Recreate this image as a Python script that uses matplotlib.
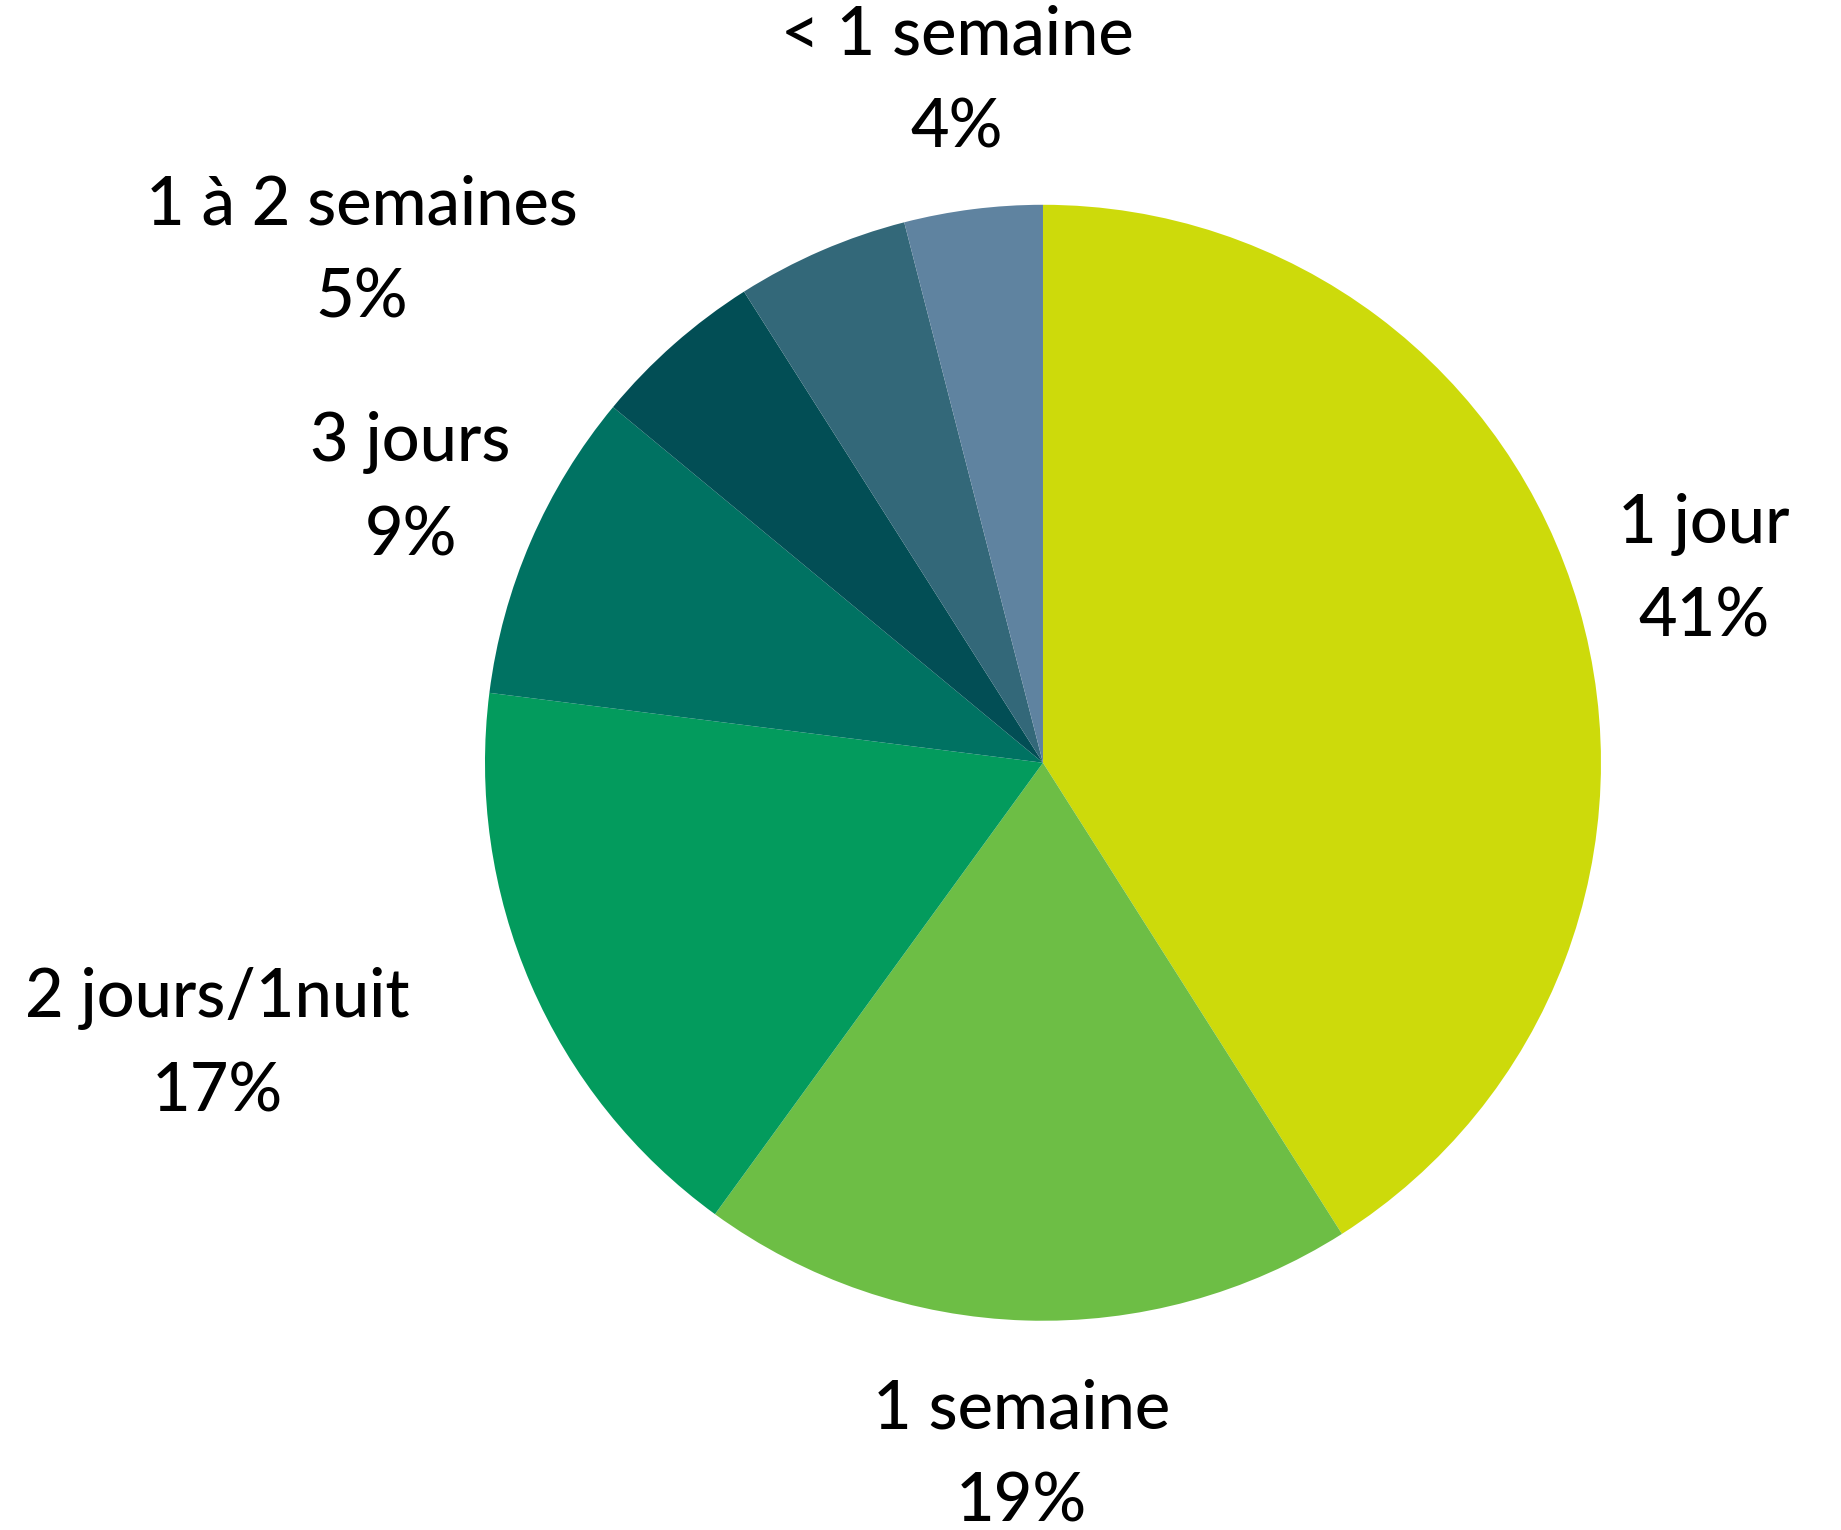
import numpy as np
import matplotlib.pyplot as plt

# durée des séjours
categories = ['1 jour', '1 semaine', '2 jours/1nuit', '3 jours', '', '1 à 2 semaines', '< 1 semaine']
values = [41, 19, 17, 9, 5, 5, 4]
colors = ['#CDDA0B', '#6DBE45', '#039B5D', '#007262', '#024E55', '#336879', '#5F83A0']

plt.rcParams['font.family'] = ['Lato', 'DejaVu Sans']

fig = plt.figure(figsize=(18.41, 15.30), dpi=100)
ax = fig.add_axes([0, 0, 1, 1])

wedges, _ = ax.pie(values, colors=colors, startangle=90, counterclock=False,
                   radius=1.0, wedgeprops={'linewidth': 0})

# where each label sits: distance from centre (in radii), optional angle override
label_r = [1.233, 1.243, 1.564, 1.235, None, 1.526, 1.23]
label_ang = [None, None, -161.1, None, None, 143.1, None]

for i, w in enumerate(wedges):
    if not categories[i]:
        continue
    ang = (w.theta1 + w.theta2) / 2 if label_ang[i] is None else label_ang[i]
    r = label_r[i]
    x = r * np.cos(np.radians(ang))
    y = r * np.sin(np.radians(ang))
    ax.text(x, y, f'{categories[i]}\n{values[i]}%', ha='center', va='center',
            fontsize=48, linespacing=1.62, color='black', fontweight='medium')

ax.set_xlim(-1.869, 1.430)
ax.set_ylim(-1.375, 1.367)
ax.set_aspect('equal')
ax.axis('off')

fig.savefig('out.png', dpi=100)
